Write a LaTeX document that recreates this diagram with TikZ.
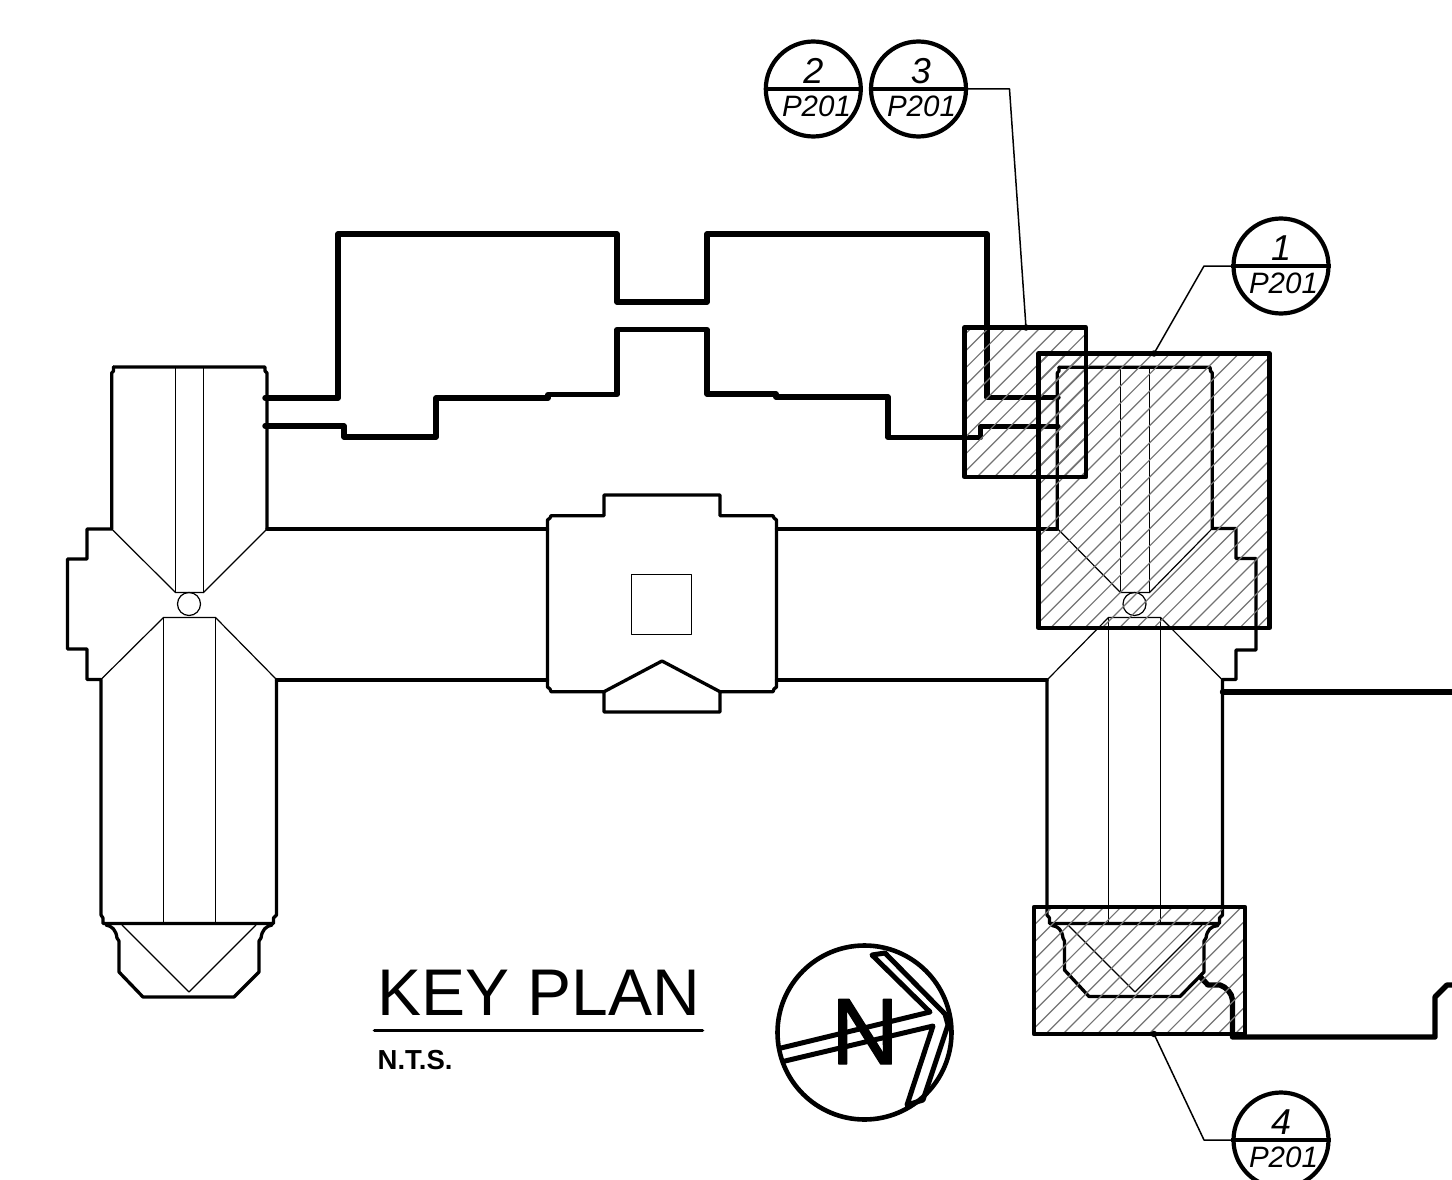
\documentclass[tikz,border=0pt]{standalone}
\usepackage{fontspec}
\setmainfont{Liberation Sans}
\newfontfamily\northfont[FakeBold=1.5]{Liberation Sans}
\newcommand{\hatchrect}[5]{%
  \begin{scope}
    \clip (#1,#2) rectangle (#3,#4);
    \foreach \k in {-40,...,40}{
      \pgfmathsetmacro{\cc}{#5+\k*17.2}
      \draw[hatchline] ({\cc-300},300) -- ({\cc-1100},1100);
    }
  \end{scope}}
\begin{document}
\begin{tikzpicture}[x=1pt,y=-1pt,
  line cap=round,line join=round,
  wall/.style={line width=3.3pt},
  heavy/.style={line width=5.4pt},
  fine/.style={line width=1.2pt},
  frame/.style={line width=4.3pt},
  leader/.style={line width=1.5pt},
  hatchline/.style={line width=1.2pt,color=black!55},
  dot/.style={circle,fill=black,inner sep=0pt,minimum size=6.5pt},
  balloon/.style={circle,draw,line width=4.2pt,inner sep=0pt,minimum size=95pt},
  ballooninner/.style={anchor=base,inner sep=0pt},
  label/.style={anchor=base west,inner sep=0pt}]
\useasboundingbox (0,0) rectangle (1452,1180);

%% ---- west wing
\draw[wall] (113.5,367) -- (265,367) -- (265,371) -- (267,373) -- (267,529);
\draw[wall] (113.5,367) -- (113.5,371) -- (111.7,373) -- (111.7,529) -- (87,529) -- (87,559) -- (67.5,559) -- (67.5,649) -- (87,649) -- (87,679.5) -- (101,679.5) -- (101,915) -- (103,918) -- (103,923.5) -- (273.5,923.5) -- (273.5,918) -- (276.5,915) -- (276.5,679.5);
\draw[fine] (111.7,529) -- (175.5,592.5) -- (203.5,592.5) -- (267,529);
\draw[fine] (175.5,367) -- (175.5,592.5) (203.5,367) -- (203.5,592.5);
\draw[fine] (189,604) circle[radius=11.5];
\draw[fine] (101,679.5) -- (163.5,617.5) -- (215.5,617.5) -- (276.5,679.5);
\draw[fine] (163.5,617.5) -- (163.5,923) (215.5,617.5) -- (215.5,923);
\draw[wall] (106,925) .. controls (112,926) and (116,930) .. (117,938) -- (119,941) -- (119,972) -- (143,997) -- (234,997) -- (259,972) -- (259,941) -- (261,938) .. controls (262,930) and (266,926) .. (272,925);
\draw[fine] (122,925) -- (189,992) -- (256,925);

%% ---- corridors
\draw[wall] (267,529) -- (547.5,529) (276.5,680) -- (547.5,680);
\draw[wall] (776.5,529) -- (1057.3,529) (776.5,680) -- (1047,680);

%% ---- centre block
\draw[wall] (547.5,520) -- (550,518) -- (551,515.7) -- (604,515.7) -- (604,495) -- (720,495) -- (720,515.7) -- (773,515.7) -- (774,518) -- (776.5,520) -- (776.5,687) -- (774,689) -- (773,691.7) -- (720,691.7) -- (720,712) -- (604,712) -- (604,691.7) -- (551,691.7) -- (550,689) -- (547.5,687) -- cycle;
\draw[wall] (604,691.7) -- (662,661) -- (720,691.7);
\draw[fine] (631.5,574.5) rectangle (691.5,634.5);

%% ---- north range (heavy outlines)
\draw[heavy] (265,398) -- (338,398) -- (338,234) -- (617,234) -- (617,302) -- (707,302) -- (707,234) -- (987,234) -- (987,397.5) -- (1058,397.5);
\draw[heavy] (265,426) -- (344,426) -- (344,437) -- (436,437) -- (436,398) -- (548,398) -- (548,394.5) -- (617,394.5) -- (617,329.5) -- (707,329.5) -- (707,394) -- (776,394) -- (776,397) -- (888,397) -- (888,437.3) -- (980.5,437.3) -- (980.5,426.7) -- (1058,426.7);

%% ---- east wing
\draw[wall] (1059,367.3) -- (1210,367.3) -- (1210.5,371) -- (1212.3,373) -- (1212.3,528.5) -- (1236,528.5) -- (1236,558.5) -- (1256,558.5) -- (1256,650) -- (1236,650) -- (1236,679.5) -- (1222.5,679.5) -- (1222.5,915) -- (1219.5,918) -- (1219.5,923.5) -- (1049.5,923.5) -- (1049.5,918) -- (1047,915) -- (1047,680);
\draw[wall] (1059,367.3) -- (1059,371) -- (1057.3,373) -- (1057.3,528.5);
\draw[fine] (1057.3,528.5) -- (1120.5,592.5) -- (1149.5,592.5) -- (1212.3,528.5);
\draw[fine] (1120.5,367.3) -- (1120.5,592.5) (1149.5,367.3) -- (1149.5,592.5);
\draw[fine] (1134.5,604) circle[radius=11.5];
\draw[fine] (1047,680) -- (1108.5,617.5) -- (1160.5,617.5) -- (1222.5,680);
\draw[fine] (1108.5,617.5) -- (1108.5,923) (1160.5,617.5) -- (1160.5,923);
\draw[wall] (1052,925.5) .. controls (1058,926) and (1062,930) .. (1063,938) -- (1064.5,941) -- (1064.5,970) -- (1089,996.5) -- (1180,996.5) -- (1204,972) -- (1204,941) -- (1206,938) .. controls (1207,930) and (1211,926) .. (1218,925.5);
\draw[fine] (1068,925) -- (1135,992) -- (1202,925);

%% ---- east building
\draw[heavy] (1222.5,692) -- (1452,692);
\draw[heavy] (1200.5,977) -- (1208,985) -- (1220,985) .. controls (1226,987) and (1232,993) .. (1232.5,1000) -- (1232.5,1037) -- (1435,1037) -- (1435,997) -- (1447,985) -- (1452,985);

%% ---- hatched detail zones
\hatchrect{1038.5}{353.5}{1269.5}{628}{1678.4}
\hatchrect{964.5}{327.5}{1086}{477}{1454}
\hatchrect{1034}{907}{1245}{1034}{2079.7}
\draw[frame] (1038.5,353.5) rectangle (1269.5,628);
\draw[frame] (964.5,327.5) rectangle (1086,477);
\draw[frame] (1034,907) rectangle (1245,1034);

%% ---- section balloons
\node[balloon] (b2) at (813.3,89) {};
\node[balloon] (b3) at (918.5,89) {};
\node[balloon] (b1) at (1281,266) {};
\node[balloon] (b4) at (1281,1140) {};
\foreach \b in {b1,b2,b3,b4}{
  \draw[line width=3.6pt,line cap=butt] (\b.west) -- (\b.east);
}
\node[ballooninner] (t2) at (813.3,83.5) {\fontsize{36}{36}\selectfont\itshape 2};
\node[ballooninner] (p2) at (816.5,116.5) {\fontsize{29.5}{29.5}\selectfont\itshape P201};
\node[ballooninner] (t3) at (921,83.5) {\fontsize{36}{36}\selectfont\itshape 3};
\node[ballooninner] (p3) at (921.5,116.5) {\fontsize{29.5}{29.5}\selectfont\itshape P201};
\node[ballooninner] (t1) at (1281,260.5) {\fontsize{36}{36}\selectfont\itshape 1};
\node[ballooninner] (p1) at (1283.5,293.5) {\fontsize{29.5}{29.5}\selectfont\itshape P201};
\node[ballooninner] (t4) at (1281,1134.5) {\fontsize{36}{36}\selectfont\itshape 4};
\node[ballooninner] (p4) at (1283.5,1167.5) {\fontsize{29.5}{29.5}\selectfont\itshape P201};

%% ---- leaders
\node[dot] (d3) at (1026,327.5) {};
\node[dot] (d1) at (1154,353.5) {};
\node[dot] (d4) at (1154,1034) {};
\coordinate (k3) at (1009.5,89);
\coordinate (k1) at (1204,266);
\coordinate (k4) at (1204,1140);
\draw[leader] (b3.east) -- (k3) -- (d3.center);
\draw[leader] (b1.west) -- (k1) -- (d1.center);
\draw[leader] (b4.west) -- (k4) -- (d4.center);

%% ---- title
\node[label] (title) at (377,1015.7) {\fontsize{66}{66}\selectfont KEY PLAN};
\draw[line width=3.6pt] (374.5,1030.5) -- (702.5,1030.5);
\node[label] (nts) at (377.5,1069) {\fontsize{27.5}{27.5}\selectfont\bfseries N.T.S.};

%% ---- north arrow
\draw[line width=4.6pt] (864.5,1032.5) circle[radius=87];
\node[anchor=base,inner sep=0pt] (north) at (865,1064) {\fontsize{94}{94}\selectfont\northfont N};
\draw[line width=5pt] (781,1048) -- (930,1012) -- (872,955) -- (885,953) -- (945,1014) -- (948,1025) -- (923,1100) -- (907,1105) -- (933,1026) -- (785,1061);
\end{tikzpicture}
\end{document}
